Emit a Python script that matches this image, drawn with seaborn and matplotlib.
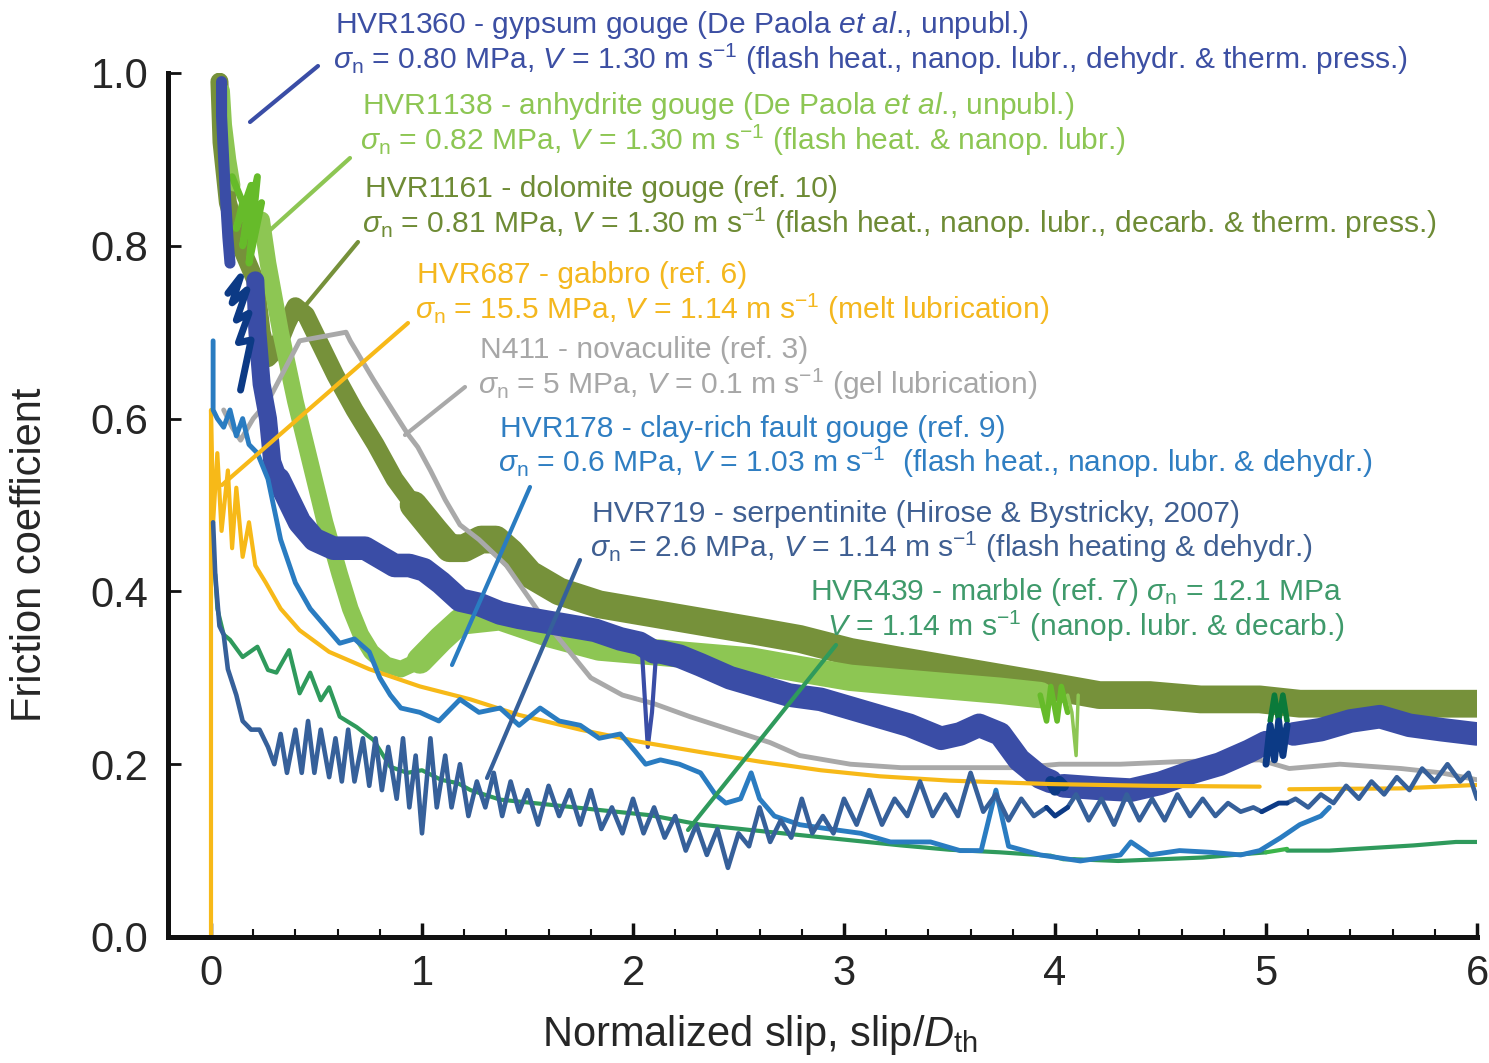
import numpy as np
import matplotlib
matplotlib.use("Agg")
import matplotlib.pyplot as plt
import seaborn as sns

# ---------------- data (normalized slip, friction coefficient) ----------------
# HVR1360 gypsum gouge
gyp_a_x = [0.05, 0.05, 0.06, 0.07, 0.08, 0.09]
gyp_a_y = [0.99, 0.95, 0.90, 0.85, 0.81, 0.78]
gyp_s1_x = [0.08, 0.14, 0.10, 0.17, 0.12, 0.18, 0.13, 0.19, 0.14]
gyp_s1_y = [0.745, 0.764, 0.734, 0.749, 0.714, 0.722, 0.688, 0.691, 0.633]
gyp_b_x = [0.21, 0.22, 0.24, 0.27, 0.29, 0.32]
gyp_b_y = [0.76, 0.70, 0.64, 0.60, 0.55, 0.53]
gyp_c_x = [0.32, 0.36, 0.42, 0.49, 0.58, 0.66, 0.73, 0.80, 0.87, 0.94, 1.01, 1.09, 1.18, 1.27, 1.37,
           1.46, 1.58, 1.70, 1.82, 1.94, 2.03, 2.10, 2.13, 2.22, 2.32, 2.46, 2.60, 2.74, 2.89, 3.03,
           3.17, 3.31, 3.46, 3.55, 3.64, 3.74, 3.83, 3.93, 3.98]
gyp_c_y = [0.53, 0.51, 0.48, 0.46, 0.45, 0.45, 0.45, 0.44, 0.43, 0.43, 0.425, 0.41, 0.39, 0.385, 0.375,
           0.37, 0.365, 0.36, 0.355, 0.345, 0.34, 0.33, 0.33, 0.325, 0.315, 0.30, 0.29, 0.28, 0.275, 0.265,
           0.255, 0.245, 0.23, 0.235, 0.245, 0.235, 0.205, 0.185, 0.18]
gyp_spike_x = [2.04, 2.07, 2.09, 2.11]
gyp_spike_y = [0.34, 0.22, 0.26, 0.33]
gyp_s2_x = [3.98, 4.00, 4.02, 4.04]
gyp_s2_y = [0.18, 0.17, 0.18, 0.175]
gyp_d_x = [4.04, 4.21, 4.36, 4.50, 4.64, 4.78, 4.92, 5.00]
gyp_d_y = [0.175, 0.172, 0.170, 0.178, 0.19, 0.20, 0.215, 0.225]
gyp_s3_x = [5.00, 5.02, 5.04, 5.06, 5.08, 5.10]
gyp_s3_y = [0.20, 0.245, 0.205, 0.25, 0.21, 0.245]
gyp_e_x = [5.13, 5.26, 5.40, 5.54, 5.68, 5.83, 6.00]
gyp_e_y = [0.235, 0.24, 0.25, 0.255, 0.245, 0.24, 0.235]

# HVR1138 anhydrite gouge
anh_a_x = [0.06, 0.07, 0.09, 0.11]
anh_a_y = [0.98, 0.94, 0.90, 0.87]
anh_s1_x = [0.10, 0.15, 0.12, 0.19, 0.15, 0.22, 0.18, 0.24]
anh_s1_y = [0.88, 0.85, 0.82, 0.87, 0.80, 0.88, 0.78, 0.85]
anh_b_x = [0.24, 0.27, 0.33, 0.40, 0.47, 0.54, 0.61, 0.66, 0.71, 0.76, 0.83, 0.90, 0.99]
anh_b_y = [0.83, 0.78, 0.70, 0.62, 0.55, 0.48, 0.42, 0.38, 0.35, 0.33, 0.315, 0.31, 0.32]
anh_c_x = [0.99, 1.09, 1.18, 1.37, 1.61, 1.84, 2.08, 2.32, 2.56, 2.79, 3.03, 3.26, 3.50, 3.74, 3.93]
anh_c_y = [0.32, 0.345, 0.365, 0.37, 0.35, 0.335, 0.33, 0.325, 0.32, 0.31, 0.30, 0.295, 0.29, 0.285, 0.28]
anh_s2_x = [3.93, 3.96, 3.98, 4.01, 4.03, 4.06]
anh_s2_y = [0.28, 0.25, 0.29, 0.25, 0.29, 0.26]
anh_d_x = [4.06, 4.08, 4.10, 4.11]
anh_d_y = [0.28, 0.26, 0.21, 0.28]

# HVR1161 dolomite gouge
dol_a_x = [0.04, 0.05, 0.08, 0.14, 0.21, 0.24, 0.27, 0.31, 0.36, 0.40, 0.45, 0.51, 0.59, 0.68, 0.78,
           0.87, 0.96]
dol_a_y = [0.99, 0.92, 0.85, 0.80, 0.76, 0.70, 0.67, 0.68, 0.71, 0.73, 0.72, 0.69, 0.65, 0.61, 0.57,
           0.53, 0.50]
dol_b_x = [0.96, 1.06, 1.13, 1.20, 1.28, 1.35, 1.42, 1.51, 1.65, 1.84, 2.08, 2.32, 2.56, 2.79, 3.03,
           3.26, 3.50, 3.74, 3.98, 4.21, 4.45, 4.69, 4.97, 5.16, 5.40, 5.64, 6.00]
dol_b_y = [0.50, 0.47, 0.45, 0.45, 0.46, 0.46, 0.445, 0.42, 0.40, 0.385, 0.375, 0.365, 0.355, 0.345, 0.33,
           0.32, 0.31, 0.30, 0.29, 0.28, 0.28, 0.275, 0.275, 0.27, 0.27, 0.27, 0.27]
dol_s_x = [5.02, 5.04, 5.06, 5.08, 5.10]
dol_s_y = [0.25, 0.28, 0.25, 0.28, 0.25]

# HVR687 gabbro
gab_a_x = [0.0, 0.0, 0.01, 0.03, 0.05, 0.08, 0.10, 0.12, 0.15, 0.18, 0.21, 0.26, 0.33, 0.42, 0.56,
           0.75, 0.99, 1.23, 1.46, 1.75, 2.03, 2.32, 2.60, 2.89, 3.17, 3.50, 3.98, 4.45, 4.97]
gab_a_y = [0.0, 0.61, 0.48, 0.56, 0.47, 0.54, 0.45, 0.52, 0.44, 0.48, 0.43, 0.41, 0.38, 0.355, 0.33,
           0.31, 0.29, 0.275, 0.257, 0.24, 0.226, 0.214, 0.203, 0.193, 0.186, 0.181, 0.177, 0.175, 0.174]
gab_b_x = [5.11, 5.64, 6.00]
gab_b_y = [0.171, 0.172, 0.176]

# N411 novaculite
nov_x = [0.06, 0.10, 0.14, 0.20, 0.27, 0.42, 0.64, 0.66, 0.77, 0.86, 0.93, 0.98, 1.04, 1.11, 1.18,
         1.27, 1.40, 1.60, 1.80, 1.95, 2.10, 2.27, 2.46, 2.65, 2.79, 3.03, 3.27, 3.55, 3.83, 4.02,
         4.31, 4.59, 4.97, 5.11, 5.35, 5.64, 5.83, 6.00]
nov_y = [0.61, 0.59, 0.575, 0.60, 0.62, 0.69, 0.70, 0.69, 0.645, 0.61, 0.583, 0.567, 0.54, 0.506, 0.477,
         0.46, 0.43, 0.36, 0.30, 0.28, 0.27, 0.255, 0.24, 0.225, 0.21, 0.20, 0.196, 0.196, 0.196, 0.20,
         0.20, 0.203, 0.205, 0.195, 0.20, 0.195, 0.19, 0.182]

# HVR178 clay-rich fault gouge
clay_x = [0.01, 0.01, 0.03, 0.06, 0.09, 0.12, 0.15, 0.18, 0.22, 0.27, 0.33, 0.40, 0.47, 0.54, 0.61,
          0.68, 0.75, 0.80, 0.85, 0.90, 0.99, 1.08, 1.18, 1.27, 1.37, 1.46, 1.56, 1.65, 1.75, 1.84,
          1.94, 2.01, 2.06, 2.13, 2.22, 2.32, 2.39, 2.44, 2.51, 2.56, 2.60, 2.67, 2.79, 2.93, 3.08,
          3.22, 3.41, 3.55, 3.65, 3.72, 3.78, 3.93, 4.12, 4.31, 4.36, 4.45, 4.59, 4.74, 4.88, 4.97,
          5.07, 5.16, 5.26, 5.30]
clay_y = [0.69, 0.61, 0.60, 0.59, 0.61, 0.58, 0.60, 0.57, 0.56, 0.53, 0.46, 0.41, 0.38, 0.36, 0.34,
          0.345, 0.33, 0.30, 0.28, 0.265, 0.26, 0.25, 0.275, 0.26, 0.265, 0.245, 0.265, 0.25, 0.245, 0.23,
          0.235, 0.215, 0.20, 0.205, 0.20, 0.19, 0.165, 0.155, 0.16, 0.19, 0.16, 0.14, 0.13, 0.125, 0.12,
          0.11, 0.11, 0.10, 0.10, 0.17, 0.105, 0.095, 0.088, 0.095, 0.11, 0.095, 0.10, 0.098, 0.095, 0.10,
          0.115, 0.13, 0.14, 0.15]

# HVR719 serpentinite
serp_a_x = [0.01, 0.02, 0.04, 0.06, 0.08, 0.12, 0.15, 0.19, 0.23, 0.27,
            0.30, 0.33, 0.36, 0.40, 0.43, 0.46, 0.49, 0.52, 0.56, 0.59, 0.62, 0.65, 0.68, 0.72, 0.75,
            0.78, 0.81, 0.84, 0.88, 0.91, 0.94, 0.97, 1.00, 1.04, 1.07, 1.11, 1.14, 1.18, 1.22, 1.26,
            1.30, 1.34, 1.38, 1.42, 1.46, 1.50, 1.55, 1.60, 1.65, 1.70, 1.75, 1.80, 1.85, 1.90, 1.95,
            2.00, 2.05, 2.10, 2.15, 2.20, 2.25, 2.30, 2.35, 2.40, 2.45, 2.50, 2.55, 2.60, 2.65, 2.70,
            2.75, 2.80, 2.85, 2.90, 2.95, 3.00, 3.06, 3.12, 3.18, 3.24, 3.30, 3.36, 3.42, 3.48, 3.54,
            3.60, 3.66, 3.72, 3.78, 3.84, 3.90, 3.96]
serp_a_y = [0.48, 0.42, 0.36, 0.35, 0.31, 0.28, 0.25, 0.24, 0.24, 0.22,
            0.20, 0.235, 0.19, 0.24, 0.19, 0.25, 0.19, 0.24, 0.185, 0.23, 0.18, 0.24, 0.18, 0.23, 0.175,
            0.23, 0.17, 0.22, 0.16, 0.23, 0.15, 0.21, 0.12, 0.23, 0.15, 0.21, 0.15, 0.20, 0.14, 0.18,
            0.15, 0.19, 0.14, 0.18, 0.145, 0.17, 0.13, 0.175, 0.14, 0.17, 0.13, 0.17, 0.125, 0.15, 0.12,
            0.16, 0.12, 0.15, 0.115, 0.14, 0.10, 0.13, 0.095, 0.125, 0.08, 0.12, 0.105, 0.15, 0.11, 0.135,
            0.115, 0.16, 0.12, 0.14, 0.12, 0.16, 0.13, 0.17, 0.13, 0.16, 0.14, 0.18, 0.14, 0.165, 0.14,
            0.19, 0.145, 0.165, 0.135, 0.16, 0.14, 0.15]
serp_s1_x = [3.96, 4.00, 4.03, 4.06]
serp_s1_y = [0.15, 0.14, 0.145, 0.15]
serp_b_x = [4.06, 4.10, 4.16, 4.22, 4.28, 4.34, 4.40, 4.46, 4.52, 4.58, 4.64, 4.70, 4.76, 4.82, 4.88, 4.94, 4.98]
serp_b_y = [0.15, 0.165, 0.135, 0.16, 0.13, 0.165, 0.135, 0.16, 0.135, 0.165, 0.14, 0.16, 0.14, 0.155, 0.145, 0.15, 0.145]
serp_s2_x = [4.98, 5.02, 5.06, 5.10]
serp_s2_y = [0.145, 0.15, 0.155, 0.155]
serp_c_x = [5.10, 5.14, 5.20, 5.26, 5.32, 5.38, 5.44, 5.50, 5.56, 5.62, 5.68, 5.74, 5.80, 5.86, 5.92, 5.96, 6.00]
serp_c_y = [0.155, 0.16, 0.15, 0.165, 0.155, 0.175, 0.16, 0.18, 0.165, 0.185, 0.17, 0.195, 0.18, 0.20, 0.18, 0.19, 0.16]

# HVR439 marble
mar_a_x = [0.02, 0.03, 0.06, 0.09, 0.15, 0.22, 0.27, 0.31, 0.37, 0.42, 0.47, 0.52, 0.56, 0.61, 0.69,
           0.77, 0.85, 0.93, 1.00, 1.09, 1.17, 1.23, 1.37, 1.61, 1.84, 2.08, 2.32, 2.55, 2.79, 3.03,
           3.27, 3.50, 3.74, 3.98]
mar_a_y = [0.42, 0.38, 0.35, 0.344, 0.324, 0.336, 0.309, 0.306, 0.332, 0.282, 0.306, 0.274, 0.289, 0.255, 0.243,
           0.228, 0.197, 0.19, 0.193, 0.182, 0.178, 0.17, 0.159, 0.153, 0.147, 0.141, 0.13, 0.124, 0.118, 0.112,
           0.106, 0.101, 0.098, 0.094]
mar_s1_x = [3.98, 4.04, 4.09]
mar_s1_y = [0.094, 0.09, 0.09]
mar_b_x = [4.09, 4.30, 4.50, 4.70, 5.00]
mar_b_y = [0.09, 0.088, 0.09, 0.092, 0.098]
mar_s2_x = [5.00, 5.05, 5.10]
mar_s2_y = [0.098, 0.10, 0.102]
mar_c_x = [5.10, 5.30, 5.50, 5.70, 5.90, 6.00]
mar_c_y = [0.10, 0.10, 0.103, 0.106, 0.11, 0.11]

y_ticks = [0.0, 0.2, 0.4, 0.6, 0.8, 1.0]
x_ticks = [0, 1, 2, 3, 4, 5, 6]

# ---------------- style ----------------
sns.set_theme(style="ticks")
plt.rcParams["font.family"] = ["Liberation Sans", "DejaVu Sans"]
plt.rcParams["mathtext.fontset"] = "custom"
plt.rcParams["mathtext.rm"] = "Liberation Sans"
plt.rcParams["mathtext.it"] = "Liberation Sans:italic"
plt.rcParams["mathtext.bf"] = "Liberation Sans:bold"

C_GYP = "#3a4da6"
C_NAVY = "#0c3a85"
C_ANH = "#8dc653"
C_ANH_S = "#66bb2a"
C_DOL = "#76913a"
C_DOL_S = "#0b7a3a"
C_GAB = "#f7b918"
C_NOV = "#a9a9a9"
C_CLAY = "#2a7cc1"
C_SERP = "#36609a"
C_MAR = "#2f9a5c"
C_MAR_S = "#3cb54a"

W, H = 1489, 1063
fig = plt.figure(figsize=(W / 100, H / 100), dpi=100)
ax = fig.add_axes([168 / W, 1 - 937 / H, (1477 - 168) / W, (937 - 73) / H])


def draw(xs, ys, color, lw, z):
    sns.lineplot(x=xs, y=ys, ax=ax, color=color, linewidth=lw, estimator=None,
                 sort=False, zorder=z, solid_joinstyle="round", solid_capstyle="round")


# back to front
draw(dol_a_x, dol_a_y, C_DOL, 13, 1)
draw(dol_b_x, dol_b_y, C_DOL, 20, 1)
draw(dol_s_x, dol_s_y, C_DOL_S, 4, 1.1)
draw(anh_a_x, anh_a_y, C_ANH, 9, 2)
draw(anh_b_x, anh_b_y, C_ANH, 12, 2)
draw(anh_c_x, anh_c_y, C_ANH, 19, 2)
draw(anh_s1_x, anh_s1_y, C_ANH_S, 5, 2.1)
draw(anh_s2_x, anh_s2_y, C_ANH_S, 4, 2.1)
draw(anh_d_x, anh_d_y, C_ANH, 2.5, 2.1)
draw(nov_x, nov_y, C_NOV, 3.5, 2.5)
draw(gyp_a_x, gyp_a_y, C_GYP, 8, 3)
draw(gyp_b_x, gyp_b_y, C_GYP, 13, 3)
draw(gyp_c_x, gyp_c_y, C_GYP, 17, 3)
draw(gyp_spike_x, gyp_spike_y, C_GYP, 3, 3)
draw(gyp_d_x, gyp_d_y, C_GYP, 17, 3)
draw(gyp_e_x, gyp_e_y, C_GYP, 17, 3)
draw(gyp_s1_x, gyp_s1_y, C_NAVY, 5, 3.1)
draw(gyp_s2_x, gyp_s2_y, C_NAVY, 8, 3.1)
draw(gyp_s3_x, gyp_s3_y, C_NAVY, 5, 3.1)
draw(gab_a_x, gab_a_y, C_GAB, 3, 4)
draw(gab_b_x, gab_b_y, C_GAB, 3, 4)
draw(mar_a_x, mar_a_y, C_MAR, 3, 4.5)
draw(mar_b_x, mar_b_y, C_MAR, 3, 4.5)
draw(mar_c_x, mar_c_y, C_MAR, 3, 4.5)
draw(mar_s1_x, mar_s1_y, C_MAR_S, 3, 4.6)
draw(mar_s2_x, mar_s2_y, C_MAR_S, 3, 4.6)
draw(clay_x, clay_y, C_CLAY, 3.5, 5)
draw(serp_a_x, serp_a_y, C_SERP, 3.3, 5.5)
draw(serp_b_x, serp_b_y, C_SERP, 3.3, 5.5)
draw(serp_c_x, serp_c_y, C_SERP, 3.3, 5.5)
draw(serp_s1_x, serp_s1_y, C_NAVY, 3.5, 5.6)
draw(serp_s2_x, serp_s2_y, C_NAVY, 3.5, 5.6)

# ---------------- axes ----------------
ax.set_xlim(-43 / 211, 6.0)
ax.set_ylim(0, 1.0)
for s in ("top", "right"):
    ax.spines[s].set_visible(False)
for s in ("left", "bottom"):
    ax.spines[s].set_linewidth(3.6)
    ax.spines[s].set_color("#111111")
    ax.spines[s].set_zorder(20)
ax.spines["left"].set_bounds(0, 1.0)
ax.set_xticks(x_ticks)
ax.set_xticklabels([str(v) for v in x_ticks])
ax.set_xticks(np.arange(0, 6.01, 0.2), minor=True)
ax.set_yticks(y_ticks)
ax.set_yticklabels([f"{v:.1f}" for v in y_ticks])
ax.tick_params(axis="x", which="major", direction="in", length=10, width=2.5,
               labelsize=30, pad=12, color="#111111")
ax.tick_params(axis="x", which="minor", direction="in", length=6, width=1.5, color="#111111")
ax.tick_params(axis="y", which="major", direction="in", length=9, width=2,
               labelsize=30, pad=14, color="#111111")
ax.set_xlabel(r"Normalized slip, slip/$D_\mathrm{th}$", fontsize=30)
ax.set_ylabel("Friction coefficient", fontsize=30)
ax.xaxis.set_label_coords((760 - 168) / 1309, (937 - 1035) / 864)
ax.xaxis.label.set_va("center")
ax.yaxis.set_label_coords((30 - 168) / 1309, (937 - 555) / 864)
ax.yaxis.label.set_va("center")


# ---------------- annotations ----------------
def fx(px):
    return px / W


def fy(py):
    return 1 - py / H


FS = 21.6
SIG = r"$\sigma_\mathrm{n}$"
labels = [
    ("HVR1360 - gypsum gouge (De Paola $\\mathit{et\\ al}$., unpubl.)", 335, 33, "#3c4fa3"),
    (SIG + r" = 0.80 MPa, $V$ = 1.30 m s$^{-1}$ (flash heat., nanop. lubr., dehydr. & therm. press.)", 333, 69, "#3c4fa3"),
    ("HVR1138 - anhydrite gouge (De Paola $\\mathit{et\\ al}$., unpubl.)", 362, 114, "#8dc653"),
    (SIG + r" = 0.82 MPa, $V$ = 1.30 m s$^{-1}$ (flash heat. & nanop. lubr.)", 360, 150, "#8dc653"),
    ("HVR1161 - dolomite gouge (ref. 10)", 365, 197, "#6e8b35"),
    (SIG + r" = 0.81 MPa, $V$ = 1.30 m s$^{-1}$ (flash heat., nanop. lubr., decarb. & therm. press.)", 362, 233, "#6e8b35"),
    ("HVR687 - gabbro (ref. 6)", 417, 283, "#f4b71e"),
    (SIG + r" = 15.5 MPa, $V$ = 1.14 m s$^{-1}$ (melt lubrication)", 415, 319, "#f4b71e"),
    ("N411 - novaculite (ref. 3)", 480, 358, "#a7a7a7"),
    (SIG + r" = 5 MPa, $V$ = 0.1 m s$^{-1}$ (gel lubrication)", 478, 394, "#a7a7a7"),
    ("HVR178 - clay-rich fault gouge (ref. 9)", 500, 437, "#2f7ec2"),
    (SIG + r" = 0.6 MPa, $V$ = 1.03 m s$^{-1}$  (flash heat., nanop. lubr. & dehydr.)", 498, 472, "#2f7ec2"),
    ("HVR719 - serpentinite (Hirose & Bystricky, 2007)", 592, 522, "#3f5f92"),
    (SIG + r" = 2.6 MPa, $V$ = 1.14 m s$^{-1}$ (flash heating & dehydr.)", 590, 557, "#3f5f92"),
    ("HVR439 - marble (ref. 7) " + SIG + " = 12.1 MPa", 810, 600, "#3f9a6b"),
    (r"$V$ = 1.14 m s$^{-1}$ (nanop. lubr. & decarb.)", 827, 636, "#3f9a6b"),
]
for txt, px, py, col in labels:
    fig.text(fx(px), fy(py), txt, color=col, fontsize=FS, ha="left", va="baseline")

leaders = [
    ((318, 66), (250, 122), C_GYP),
    ((350, 158), (268, 232), C_ANH),
    ((358, 242), (305, 306), C_DOL),
    ((408, 323), (222, 485), C_GAB),
    ((465, 387), (405, 435), C_NOV),
    ((530, 487), (452, 665), C_CLAY),
    ((580, 560), (487, 778), C_SERP),
    ((836, 645), (688, 830), C_MAR),
]
for (x1, y1), (x2, y2), col in leaders:
    ax.annotate("", xy=(fx(x2), fy(y2)), xytext=(fx(x1), fy(y1)),
                xycoords="figure fraction", textcoords="figure fraction",
                arrowprops=dict(arrowstyle="-", color=col, lw=3, shrinkA=0, shrinkB=0),
                zorder=10)

fig.savefig("out.png", dpi=100)
